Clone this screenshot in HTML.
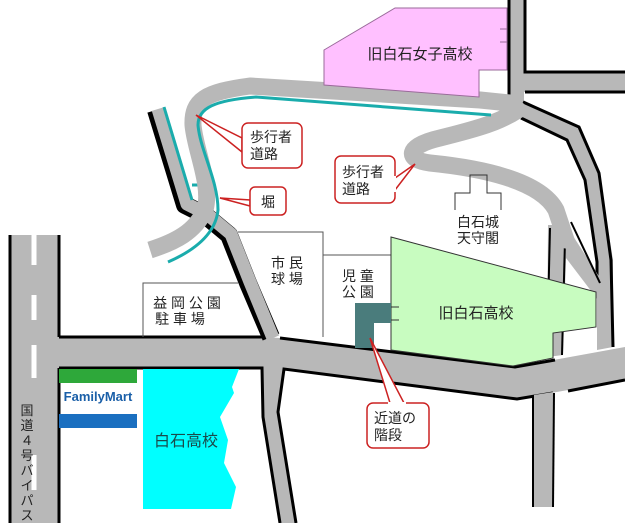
<!DOCTYPE html>
<html><head><meta charset="utf-8"><style>
html,body{margin:0;padding:0;background:#fff;width:625px;height:523px;overflow:hidden}
svg{display:block}
text{font-family:"Liberation Sans","Noto Sans CJK JP",sans-serif}
</style></head><body>
<svg width="625" height="523" viewBox="0 0 625 523" xmlns="http://www.w3.org/2000/svg">
<!-- route 4 bypass -->
<rect x="9" y="235" width="51" height="288" fill="#b8b8b8"/>
<line x1="10" y1="235" x2="10" y2="523" stroke="#000" stroke-width="3"/>
<line x1="59" y1="235" x2="59" y2="337" stroke="#000" stroke-width="3"/>
<line x1="59" y1="368" x2="59" y2="523" stroke="#000" stroke-width="3"/>
<g stroke="#fff" stroke-width="5">
<line x1="34" y1="235" x2="34" y2="265"/><line x1="34" y1="295" x2="34" y2="320"/><line x1="34" y1="345" x2="34" y2="378"/><line x1="34" y1="455" x2="34" y2="490"/>
</g>
<g font-size="13" fill="#222" text-anchor="middle">
<text x="27" y="415">国</text><text x="27" y="430">道</text><text x="27" y="445">４</text><text x="27" y="460">号</text><text x="27" y="475">バ</text><text x="27" y="490">イ</text><text x="27" y="505">パ</text><text x="27" y="520">ス</text>
</g>

<!-- main horizontal road -->
<polygon points="59,337 262,337 280,338 515,367 625,347 625,380 517,399 284,369 278,412 296,523 280,523 263,417 262,368 59,368" fill="#b8b8b8"/>
<polyline points="59,337 262,337" fill="none" stroke="#000" stroke-width="3"/>
<polyline points="280,338 515,367 555,360" fill="none" stroke="#000" stroke-width="3"/>
<polyline points="59,368 262,368 263,417 280,523" fill="none" stroke="#000" stroke-width="3"/>
<polyline points="296,523 278,412 284,369 517,399 553,393" fill="none" stroke="#000" stroke-width="3"/>
<polyline points="568,391 625,380" fill="none" stroke="#000" stroke-width="3"/>
<!-- right lower road -->
<polygon points="534,395 553,392 553,507 533,507" fill="#b8b8b8"/>
<line x1="533" y1="397" x2="533" y2="507" stroke="#000" stroke-width="2"/>
<line x1="554" y1="393" x2="553" y2="507" stroke="#000" stroke-width="2"/>

<!-- upper left road -->
<polyline points="271,337 248,283 229,235 205,215 185,205 156,110" fill="none" stroke="#000" stroke-width="18" stroke-linejoin="round"/>
<polyline points="271,339 248,283 229,235 205,215 185,205 156,110" fill="none" stroke="#b8b8b8" stroke-width="13" stroke-linejoin="round" transform="translate(2,-1)"/>
<polyline points="164,107 192,200" fill="none" stroke="#1aacac" stroke-width="3"/>
<line x1="192" y1="185" x2="201" y2="185" stroke="#1aacac" stroke-width="3"/>

<!-- top right roads -->
<rect x="509" y="0" width="15" height="110" fill="#b8b8b8"/>
<rect x="524" y="72" width="101" height="20" fill="#b8b8b8"/>
<line x1="509" y1="0" x2="509" y2="97" stroke="#000" stroke-width="3"/>
<polyline points="525,0 525,72 625,72" fill="none" stroke="#000" stroke-width="3"/>
<line x1="525" y1="92" x2="625" y2="92" stroke="#000" stroke-width="3"/>
<!-- right diagonal road -->
<polygon points="523,100 579,127 599,173 613,260 613,347 597,350 597,260 585,180 567,140 521,118" fill="#b8b8b8"/>
<polyline points="523,102 579,127 599,173 611,260 613,347" fill="none" stroke="#000" stroke-width="3"/>
<polyline points="521,118 567,140 585,180 597,262 597,290" fill="none" stroke="#000" stroke-width="3"/>
<polygon points="548,225 566,225 600,278 598,300 566,258 563,355 547,357" fill="#b8b8b8"/>
<polyline points="571,222 600,283" fill="none" stroke="#000" stroke-width="2"/>
<polyline points="565,240 562,355" fill="none" stroke="#000" stroke-width="2"/>
<polyline points="550,228 547,352" fill="none" stroke="#000" stroke-width="2"/>

<!-- pedestrian grey path -->
<path d="M150,250 C175,242 195,232 205,210 C212,185 195,150 193,125 C192,100 205,92 250,86 L480,100 L520,104" fill="none" stroke="#b8b8b8" stroke-width="17" stroke-linejoin="round"/>
<path d="M518,110 C500,122 480,128 440,138 C405,146 405,160 430,163 C480,168 540,180 556,210 L566,240" fill="none" stroke="#b8b8b8" stroke-width="17" stroke-linecap="round"/>
<path d="M168,262 C200,248 216,230 218,210 C218,180 200,150 198,125 C198,108 215,100 256,97 L491,115" fill="none" stroke="#1aacac" stroke-width="3"/>

<!-- pink building -->
<polygon points="324,50 395,8 507,8 507,70 479,70 479,97 324,85" fill="#ffc0ff" stroke="#9a6a9a" stroke-width="1"/>
<line x1="500" y1="29" x2="507" y2="29" stroke="#9a6a9a"/><line x1="500" y1="42" x2="507" y2="42" stroke="#9a6a9a"/>
<text x="420" y="59" font-size="15" fill="#222" text-anchor="middle">旧白石女子高校</text>

<!-- castle -->
<polyline points="455,210 455,193 470,193 470,175 487,175 487,193 501,193 501,210" fill="none" stroke="#333" stroke-width="1"/>
<text x="478" y="227" font-size="14" fill="#222" text-anchor="middle">白石城</text>
<text x="478" y="243" font-size="14" fill="#222" text-anchor="middle">天守閣</text>

<!-- boxes -->
<polyline points="238,232 323,232 323,337" fill="none" stroke="#555" stroke-width="1"/>
<line x1="323" y1="255" x2="391" y2="255" stroke="#555" stroke-width="1"/>
<polyline points="143,337 143,283 238,283" fill="none" stroke="#555" stroke-width="1"/>
<g font-size="14" fill="#222" text-anchor="middle">
<text x="287" y="268">市 民</text><text x="287" y="284">球 場</text>
<text x="358" y="281">児 童</text><text x="358" y="297">公 園</text>
<text x="187" y="308">益 岡 公 園</text><text x="180" y="324">駐 車 場</text>
</g>

<!-- green school -->
<polygon points="391,237 596,292 596,327 553,333 553,358 513,366 391,350" fill="#c8fcc0" stroke="#333" stroke-width="1"/>
<line x1="391" y1="307" x2="399" y2="307" stroke="#333"/><line x1="391" y1="320" x2="399" y2="320" stroke="#333"/>
<text x="476" y="318" font-size="15" fill="#222" text-anchor="middle">旧白石高校</text>

<!-- steps -->
<polygon points="355,303 391,303 391,323 374,323 374,348 355,348" fill="#4a7c7c"/>

<!-- cyan school -->
<polygon points="143,369 239,369 232,387 234,393 220,417 228,440 224,463 236,487 231,509 143,509" fill="#00ffff"/>
<text x="186" y="446" font-size="16" fill="#1a4a4a" text-anchor="middle">白石高校</text>

<!-- FamilyMart -->
<rect x="59" y="369" width="78" height="14" fill="#2ea83a"/>
<rect x="59" y="414" width="78" height="14" fill="#1a6fc0"/>
<text x="98" y="401" font-size="13" font-weight="bold" fill="#1a5fa8" text-anchor="middle">FamilyMart</text>

<!-- callouts -->
<g fill="#fff" stroke="#cc2222" stroke-width="1.5">
<polygon points="196,115 242,138 242,152"/>
<rect x="242" y="123" width="60" height="45" rx="6"/>
<polygon points="415,164 395,178 395,190"/>
<rect x="335" y="156" width="60" height="47" rx="6"/>
<polygon points="220,198 250,200 250,206"/>
<rect x="250" y="187" width="36" height="28" rx="5"/>
<polygon points="370,338 390,403 404,403"/>
<rect x="367" y="403" width="62" height="45" rx="6"/>
</g>
<g fill="#fff"><rect x="243" y="136" width="2" height="18"/><rect x="393" y="176" width="3" height="16"/><rect x="251" y="198" width="2" height="10"/><rect x="388" y="402" width="18" height="3"/></g>
<g font-size="14" fill="#222">
<text x="250" y="142">歩行者</text><text x="250" y="159">道路</text>
<text x="342" y="177">歩行者</text><text x="342" y="194">道路</text>
<text x="261" y="207">堀</text>
<text x="374" y="423">近道の</text><text x="374" y="440">階段</text>
</g>
</svg>
</body></html>
